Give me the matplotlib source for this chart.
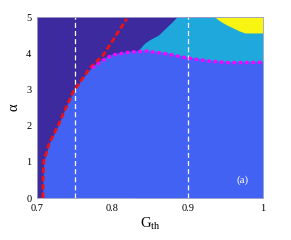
import numpy as np
import matplotlib
matplotlib.use('Agg')
import matplotlib.pyplot as plt

plt.rcParams['font.family'] = ['Liberation Serif', 'DejaVu Serif']

# Region colours (parula-like)
c_purple = '#3d2a9e'
c_blue = '#4262f4'
c_cyan = '#1fa8dc'
c_yellow = '#f8f512'

# Upper edge of the blue region (alpha vs G_th)
blue_g = [0.7075, 0.708, 0.709, 0.716, 0.728, 0.737, 0.748, 0.760, 0.770, 0.778,
          0.788, 0.800, 0.823, 0.846, 0.873, 0.899, 0.930, 0.956, 1.0]
blue_a = [0.0, 0.5, 1.0, 1.5, 2.0, 2.45, 2.93, 3.3, 3.55, 3.72,
          3.86, 3.98, 4.06, 4.09, 4.01, 3.9, 3.81, 3.77, 3.78]

# Upper edge of the cyan region (border with purple)
cyan_g = [0.830, 0.837, 0.843, 0.850, 0.861, 0.870, 0.880, 0.8855, 1.0]
cyan_a = [4.0, 4.14, 4.28, 4.38, 4.5, 4.68, 4.88, 5.0, 5.0]

# Lower edge of the yellow region
yel_g = [0.936, 0.940, 0.946, 0.952, 0.960, 0.968, 0.976, 1.0]
yel_a = [5.0, 4.93, 4.85, 4.78, 4.70, 4.62, 4.56, 4.56]

# Red dashed fit curve
red_g = [0.708, 0.708, 0.709, 0.716, 0.728, 0.737, 0.748, 0.770, 0.788, 0.819]
red_a = [0.0, 0.5, 1.0, 1.5, 2.0, 2.43, 2.93, 3.59, 3.95, 4.95]

# Magenta dotted boundary
mag_g = [0.773, 0.788, 0.800, 0.823, 0.846, 0.873, 0.899, 0.930, 0.956, 1.0]
mag_a = [3.59, 3.81, 3.95, 4.03, 4.06, 3.98, 3.87, 3.78, 3.74, 3.75]

# Vertical reference lines
vlines_g = [0.75, 0.9]

fig = plt.figure(figsize=(2.91, 2.40), dpi=100)
ax = fig.add_axes([0.127, 0.175, 0.777, 0.754])
ax.set_facecolor(c_purple)

ax.fill_between(cyan_g, 0, cyan_a, color=c_cyan, lw=0)
ax.fill_between(blue_g, 0, blue_a, color=c_blue, lw=0)
ax.fill_between(yel_g, yel_a, 5, color=c_yellow, lw=0)

for g in vlines_g:
    ax.axvline(g, color='white', lw=0.9, linestyle=(0, (4, 2.5)))

ax.plot(red_g, red_a, color='#f01010', lw=2.0, linestyle=(0, (2.0, 1.0)))
ax.plot(mag_g, mag_a, color='#ff00ff', lw=2.4, linestyle=(0, (1, 0.9)))

ax.text(0.973, 0.5, '(a)', color='white', fontsize=8, ha='center', va='center')

ax.set_xlim(0.7, 1.0)
ax.set_ylim(0, 5)
ax.set_xticks([0.7, 0.8, 0.9, 1.0])
ax.set_xticklabels(['0.7', '0.8', '0.9', '1'])
ax.set_yticks([0, 1, 2, 3, 4, 5])
ax.tick_params(length=0, labelsize=7.5, pad=4)
for s in ax.spines.values():
    s.set_color('#a8a8c8')
    s.set_linewidth(0.6)

ax.set_xlabel(r'G$_{\mathregular{th}}$', fontsize=10.5, labelpad=2)
ax.set_ylabel('α', fontsize=10.5, labelpad=4)

fig.savefig('out.png', dpi=100)
